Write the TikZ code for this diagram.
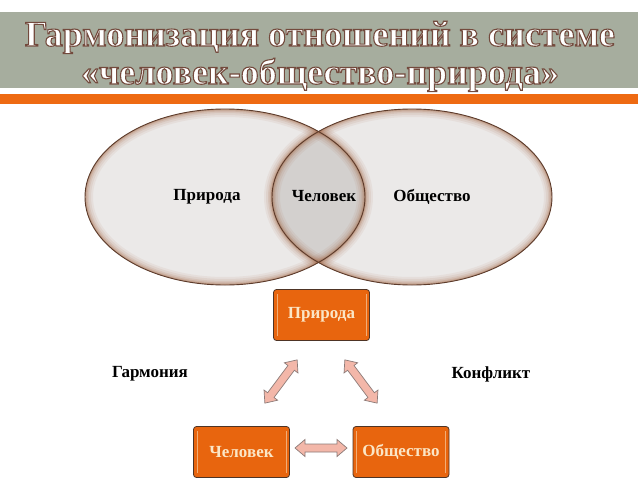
\documentclass[tikz,border=0pt]{standalone}
\usepackage{fontspec}
\setmainfont{Liberation Serif}
\usetikzlibrary{calc}
\definecolor{bandgray}{HTML}{A6AD9E}
\definecolor{barorange}{HTML}{EE6A12}
\definecolor{boxorange}{HTML}{E8650E}
\definecolor{boxline}{HTML}{4E3425}
\definecolor{boxtext}{HTML}{FBE6C6}
\definecolor{ellfill}{HTML}{EBE9E8}
\definecolor{lensfill}{HTML}{D3D0CE}
\definecolor{glow}{HTML}{9E5B36}
\definecolor{ellline}{HTML}{5C3B2B}
\definecolor{arrowfill}{HTML}{F3B7A9}
\definecolor{arrowline}{HTML}{8C7B78}
\newcommand\outlined[1]{\special{pdf:literal direct 2 Tr 1.1 w 0.45 0.29 0.24 RG}#1\special{pdf:literal direct 0 Tr}}
\tikzset{
  titlestyle/.style={font=\fontsize{36}{36}\selectfont\bfseries, inner sep=0, anchor=base, text=white},
  lbl/.style={font=\fontsize{17}{17}\selectfont\bfseries, inner sep=1},
  obox/.style={draw=boxline, line width=0.8, fill=boxorange, rounded corners=3,
    minimum width=96, minimum height=51, inner sep=0,
    font=\fontsize{17}{17}\selectfont\bfseries, text=boxtext},
  barr/.style={draw=arrowline, line width=0.7, fill=arrowfill, line join=miter},
}
\newcommand\darrow[3]{% center, angle, half-length
  \begin{scope}[shift={#1}, rotate=#2]
    \draw[barr] (-#3,0) -- (-#3+10,8.5) -- (-#3+10,4) -- (#3-10,4) -- (#3-10,8.5) -- (#3,0)
      -- (#3-10,-8.5) -- (#3-10,-4) -- (-#3+10,-4) -- (-#3+10,-8.5) -- cycle;
  \end{scope}}
\begin{document}
\begin{tikzpicture}[x=1pt, y=-1pt]
\useasboundingbox (0,0) rectangle (638,479);
\fill[white] (0,0) rectangle (638,479);
% title band
\fill[bandgray] (0,12) rectangle (638,88);
\fill[barorange] (0,94) rectangle (638,104);
\node[titlestyle] (t1) at (320,46) {\outlined{Гармонизация отношений в системе}};
\node[titlestyle] (t2) at (320,84) {\outlined{«человек-общество-природа»}};
% ellipses
\fill[ellfill] (225,197) ellipse [x radius=140, y radius=88];
\fill[ellfill] (412,197) ellipse [x radius=140, y radius=88];
\begin{scope}
  \clip (225,197) ellipse [x radius=140, y radius=88];
  \fill[lensfill] (412,197) ellipse [x radius=140, y radius=88];
\end{scope}
\begin{scope}
  \clip (225,197) ellipse [x radius=140, y radius=88] (412,197) ellipse [x radius=140, y radius=88];
  \foreach \w/\o in {16/0.07,12/0.09,8/0.12,5/0.16,2.5/0.25}{
    \draw[glow, line width=\w, opacity=\o] (225,197) ellipse [x radius=140, y radius=88];
    \draw[glow, line width=\w, opacity=\o] (412,197) ellipse [x radius=140, y radius=88];
  }
\end{scope}
\draw[ellline, line width=0.9] (225,197) ellipse [x radius=140, y radius=88];
\draw[ellline, line width=0.9] (412,197) ellipse [x radius=140, y radius=88];
\node[lbl] (epriroda) at (207,197) {Природа};
\node[lbl] (echelovek) at (324,196) {Человек};
\node[lbl] (eobshchestvo) at (432,197) {Общество};
% boxes
\node[obox] (priroda) at (321.5,315) {Природа};
\node[obox] (chelovek) at (241.5,452) {Человек};
\node[obox] (obshchestvo) at (401,452) {Общество};
\foreach \n in {priroda,chelovek,obshchestvo}{
  \draw[boxtext!70!boxorange, line width=0.8, opacity=0.8] ($(\n.north west)+(4,5)$) -- ($(\n.south west)+(4,-5)$);
  \draw[boxtext!70!boxorange, line width=0.8, opacity=0.8] ($(\n.north east)+(-4,5)$) -- ($(\n.south east)+(-4,-5)$);
}
% arrows
\darrow{(281,381.5)}{53.3}{27}
\darrow{(361,381.5)}{-53.3}{27}
\darrow{(321,448)}{0}{26}
% labels
\node[lbl] (garmonia) at (150,374) {Гармония};
\node[lbl] (konflikt) at (491,374) {Конфликт};
\end{tikzpicture}
\end{document}
